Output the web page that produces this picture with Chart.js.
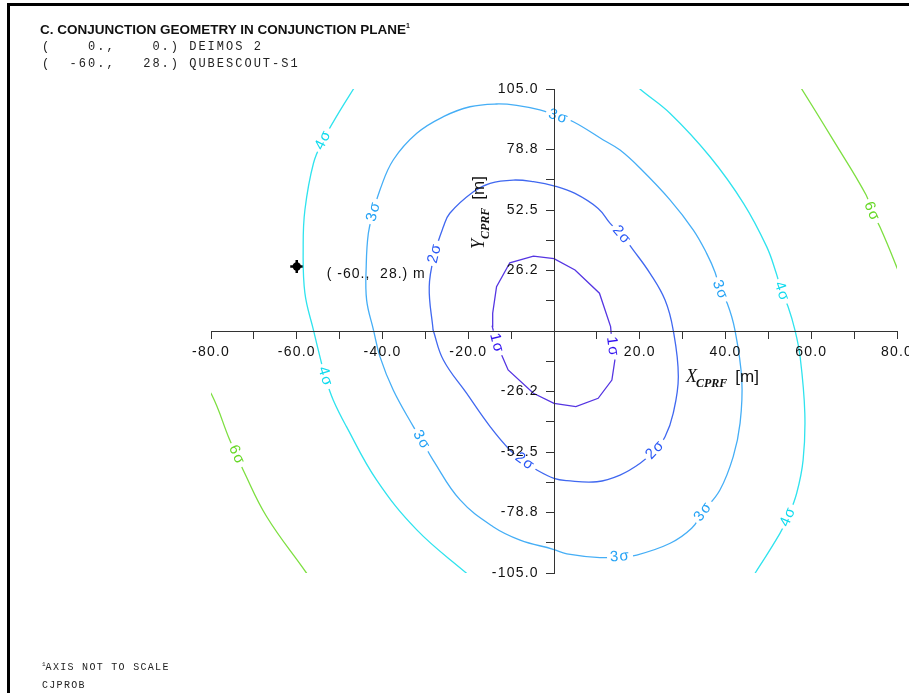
<!DOCTYPE html>
<html>
<head>
<meta charset="utf-8">
<script src="https://cdn.jsdelivr.net/npm/chart.js@4.4.1/dist/chart.umd.min.js"></script>
<style>
  html, body { margin: 0; padding: 0; background: #fff; overflow: hidden; }
  #wrap { position: relative; width: 909px; height: 693px; overflow: hidden; }
  #frame { position: absolute; left: 7px; top: 3px; width: 1000px; height: 800px; border-left: 3px solid #000; border-top: 3px solid #000; }
  #plot { position: absolute; left: 0; top: 0; }
  .t { position: absolute; white-space: pre; }
  .title { left: 40px; top: 22px; font: bold 13.5px "Liberation Sans", Arial, sans-serif; color: #111; }
  .title sup { font-size: 7px; vertical-align: 6px; }
  .mono { left: 42px; font: 12px "Liberation Mono", "Courier New", monospace; letter-spacing: 2px; color: #222; }
  .foot { left: 42px; font: 10px "Liberation Mono", "Courier New", monospace; letter-spacing: 1.3px; color: #222; }
  .foot sup { font-size: 6px; vertical-align: 4px; letter-spacing: 0; }
</style>
</head>
<body>
<div id="wrap">
  <div id="frame"></div>
  <canvas id="plot" width="940" height="693"></canvas>
  <div class="t title">C. CONJUNCTION GEOMETRY IN CONJUNCTION PLANE<sup>1</sup></div>
  <div class="t mono" style="top:40px">(    0.,    0.) DEIMOS 2</div>
  <div class="t mono" style="top:57px">(  -60.,   28.) QUBESCOUT-S1</div>
  <div class="t foot" style="top:661px"><sup>1</sup>AXIS NOT TO SCALE</div>
  <div class="t foot" style="top:680px">CJPROB</div>
</div>
<script>
// tick labels (ascending order, one per tick)
var xTickLabels = ['-80.0','','-60.0','','-40.0','','-20.0','','','','20.0','','40.0','','60.0','','80.0'];
var yTickLabels = ['-105.0','','-78.8','','-52.5','','-26.2','','','','26.2','','52.5','','78.8','','105.0'];

// secondary object position
var secondary = [[-60, 28]];

// contour lines [x, y] in m
var sigma1 = [[-13.4,-5.3],[-14.4,2.0],[-14.3,7.7],[-13.4,19.2],[-10.3,29.6],[-4.8,32.5],[0.0,31.4],[4.9,26.5],
  [10.6,16.4],[13.2,1.9],[13.6,-6.8],[14.2,-12.6],[13.5,-21.3],[10.3,-29.2],[5.1,-32.8],[0.0,-31.4],
  [-4.8,-27.0],[-10.7,-16.9],[-13.4,-5.3]];
var sigma1Labels = [[-13.4,-5.3],[13.6,-6.8]];

var sigma2 = [[-28.2,0.4],[-29.1,19.2],[-27.8,33.7],[-25.8,45.2],[-24.3,51.1],[-18.8,60.4],[-14.9,64.1],
  [-9.5,65.5],[-4.8,64.8],[0.2,62.9],[4.9,59.7],[10.3,53.2],[13.1,46.7],[15.8,41.6],[18.5,35.1],[22.4,25.0],
  [25.9,13.4],[27.8,0.4],[29.0,-19.8],[27.8,-35.7],[25.9,-45.9],[23.6,-51.6],[20.1,-57.4],[15.4,-62.5],
  [10.0,-65.4],[3.0,-64.9],[0.0,-63.9],[-4.0,-60.3],[-6.8,-56.7],[-10.3,-51.6],[-14.9,-41.5],[-20.4,-27.0],
  [-25.8,-12.6],[-28.2,0.4]];
var sigma2Labels = [[-27.8,33.7],[15.8,41.6],[23.6,-51.6],[-6.8,-56.7]];

var sigma3 = [[-42.1,0.4],[-43.7,13.4],[-43.8,28.0],[-43.3,42.4],[-42.1,51.8],[-40.6,61.2],[-37.5,74.2],
  [-32.0,85.8],[-25.8,93.0],[-19.6,97.3],[-13.4,98.5],[-8.7,97.9],[-3.3,95.9],[1.0,93.0],[4.5,90.8],
  [11.5,82.9],[15.4,78.5],[20.1,70.6],[27.1,56.8],[32.5,43.8],[35.6,33.7],[37.6,25.3],[38.7,17.8],
  [40.4,12.0],[42.2,0.4],[43.8,-21.3],[43.4,-40.0],[41.8,-54.5],[38.7,-69.0],[34.8,-78.4],[32.1,-85.6],
  [27.1,-92.1],[19.3,-97.2],[15.4,-97.9],[10.7,-98.3],[3.0,-96.7],[-0.2,-94.7],[-7.9,-90.7],[-14.2,-84.9],
  [-21.9,-73.3],[-28.2,-56.0],[-30.9,-47.3],[-32.8,-41.5],[-37.5,-25.6],[-40.6,-11.1],[-42.1,0.4]];
var sigma3Labels = [[-42.1,51.8],[1.0,93.0],[38.7,17.8],[34.8,-78.4],[15.4,-97.9],[-30.9,-47.3]];

var sigma4Left = [[-45.0,110.2],[-46.8,104.9],[-50.3,94.4],[-53.8,82.9],[-56.1,72.8],[-58.1,52.5],[-58.5,36.6],
  [-58.1,16.4],[-56.1,0.4],[-54.6,-11.1],[-53.4,-19.8],[-51.5,-29.9],[-48.4,-41.5],[-41.4,-64.6],[-32.0,-86.3],
  [-20.4,-105.1],[-17.3,-109.8]];
var sigma4Right = [[17.3,109.8],[20.1,104.9],[27.1,94.4],[36.4,75.6],[44.2,55.4],[49.6,36.6],[51.8,25.3],
  [53.1,17.1],[54.6,10.5],[56.2,0.4],[57.4,-11.1],[58.5,-35.7],[58.1,-56.0],[56.6,-70.4],[54.6,-80.6],
  [52.7,-87.8],[46.9,-105.1],[45.0,-110.2]];
var sigma4LeftLabels = [[-53.8,82.9],[-53.4,-19.8]];
var sigma4RightLabels = [[53.1,17.1],[54.6,-80.6]];

var sigma6Right = [[53.9,116.0],[57.8,104.9],[65.1,82.9],[72.8,59.0],[74.1,51.8],[76.0,45.2],[79.9,27.9],[81.9,17.8]];
var sigma6Left = [[-82.6,-21.3],[-79.8,-27.8],[-75.7,-47.0],[-74.0,-53.8],[-72.5,-60.3],[-67.0,-80.6],[-57.7,-105.1],[-55.3,-112.0]];
var sigma6RightLabels = [[74.1,51.8]];
var sigma6LeftLabels = [[-74.0,-53.8]];

var colors = {
  s1: '#5535e2', s1t: '#3010f0',
  s2: '#4068f0', s2t: '#2a58f5',
  s3: '#45aef6', s3t: '#24a2f5',
  s4: '#2fe3ee', s4t: '#10dbee',
  s6: '#7ddf40', s6t: '#66d826'
};

function xy(arr) {
  return arr.map(function(p) { return {x: p[0], y: p[1]}; });
}

function contour(arr, labels, text, line, textColor, tension) {
  return {
    data: xy(arr),
    showLine: true,
    borderColor: line,
    borderWidth: 1.3,
    pointRadius: 0,
    tension: tension,
    labelAt: labels,
    labelText: text,
    labelColor: textColor
  };
}

var FONT = '"Liberation Sans", Arial, sans-serif';
var SERIF = '"Liberation Serif", "Times New Roman", serif';

var overlay = {
  id: 'overlay',
  beforeDraw: function(chart) {
    chart.ctx.letterSpacing = '1.2px';
  },
  afterDatasetsDraw: function(chart) {
    var ctx = chart.ctx;
    chart.data.datasets.forEach(function(ds, di) {
      if (!ds.labelAt) return;
      var pts = chart.getDatasetMeta(di).data;
      ds.labelAt.forEach(function(lp) {
        var k = 0, best = Infinity;
        ds.data.forEach(function(d, i) {
          var dd = (d.x - lp[0]) * (d.x - lp[0]) + (d.y - lp[1]) * (d.y - lp[1]);
          if (dd < best) { best = dd; k = i; }
        });
        var a = pts[Math.max(k - 1, 0)], b = pts[Math.min(k + 1, pts.length - 1)];
        var ang = Math.atan2(b.y - a.y, b.x - a.x);
        if (ang > Math.PI / 2) ang -= Math.PI;
        if (ang < -Math.PI / 2) ang += Math.PI;
        ctx.save();
        ctx.translate(pts[k].x, pts[k].y);
        ctx.rotate(ang);
        ctx.font = '15px ' + FONT;
        var w = ctx.measureText(ds.labelText).width;
        ctx.fillStyle = '#fff';
        ctx.fillRect(-w / 2 - 3, -7, w + 6, 14);
        ctx.fillStyle = ds.labelColor;
        ctx.textAlign = 'center';
        ctx.textBaseline = 'middle';
        ctx.fillText(ds.labelText, 0, 0);
        ctx.restore();
      });
    });
  },
  afterDraw: function(chart) {
    var ctx = chart.ctx;
    var xs = chart.scales.x, ys = chart.scales.y;
    var ox = xs.getPixelForValue(0), oy = ys.getPixelForValue(0);
    ctx.save();
    ctx.letterSpacing = '0px';
    ctx.fillStyle = '#111';
    ctx.textBaseline = 'alphabetic';
    ctx.textAlign = 'left';

    // Y axis title, rotated
    ctx.save();
    ctx.translate(ox - 70, oy - 82);
    ctx.rotate(-Math.PI / 2);
    ctx.font = 'italic 18px ' + SERIF;
    ctx.fillText('Y', 0, 0);
    var wy = ctx.measureText('Y').width;
    ctx.font = 'bold italic 12px ' + SERIF;
    ctx.fillText('CPRF', wy, 5);
    var wc = ctx.measureText('CPRF').width;
    ctx.font = '17px ' + FONT;
    ctx.fillText('[m]', wy + wc + 8, 0);
    ctx.restore();

    // X axis title
    ctx.save();
    ctx.translate(ox + 132, oy + 51);
    ctx.font = 'italic 18px ' + SERIF;
    ctx.fillText('X', 0, 0);
    var wx = ctx.measureText('X').width;
    ctx.font = 'bold italic 12px ' + SERIF;
    ctx.fillText('CPRF', wx - 1, 5);
    wc = ctx.measureText('CPRF').width;
    ctx.font = '17px ' + FONT;
    ctx.fillText('[m]', wx + wc + 7, 0);
    ctx.restore();

    // secondary object label
    var px = xs.getPixelForValue(secondary[0][0]), py = ys.getPixelForValue(secondary[0][1]);
    ctx.font = '14px ' + FONT;
    ctx.letterSpacing = '1px';
    ctx.fillText('( -60.,  28.) m', px + 30, py + 12);
    ctx.restore();
  }
};

var ctx = document.getElementById('plot');
new Chart(ctx, {
  type: 'scatter',
  data: {
    datasets: [
      contour(sigma1, sigma1Labels, '1\u03c3', colors.s1, colors.s1t, 0),
      contour(sigma2, sigma2Labels, '2\u03c3', colors.s2, colors.s2t, 0.4),
      contour(sigma3, sigma3Labels, '3\u03c3', colors.s3, colors.s3t, 0.4),
      contour(sigma4Left, sigma4LeftLabels, '4\u03c3', colors.s4, colors.s4t, 0.4),
      contour(sigma4Right, sigma4RightLabels, '4\u03c3', colors.s4, colors.s4t, 0.4),
      contour(sigma6Left, sigma6LeftLabels, '6\u03c3', colors.s6, colors.s6t, 0.4),
      contour(sigma6Right, sigma6RightLabels, '6\u03c3', colors.s6, colors.s6t, 0.4),
      {
        data: xy(secondary),
        pointStyle: 'cross',
        pointRadius: 6.5,
        borderColor: '#000',
        borderWidth: 2.5
      },
      {
        data: xy(secondary),
        pointStyle: 'circle',
        pointRadius: 4.2,
        backgroundColor: '#000',
        borderColor: '#000',
        borderWidth: 0
      }
    ]
  },
  options: {
    responsive: false,
    animation: false,
    events: [],
    layout: { padding: { left: 211, right: 43, top: 89, bottom: 120 } },
    plugins: { legend: { display: false }, tooltip: { enabled: false } },
    scales: {
      x: {
        type: 'linear',
        min: -80,
        max: 80,
        position: { y: 0 },
        ticks: {
          stepSize: 10,
          autoSkip: false,
          maxRotation: 0,
          color: '#111',
          padding: 6,
          z: 1,
          font: { family: FONT, size: 14 },
          callback: function(v, i) { return xTickLabels[i]; }
        },
        grid: { drawOnChartArea: false, tickLength: 7, tickColor: '#333' },
        border: { color: '#333', width: 1, z: 1 }
      },
      y: {
        type: 'linear',
        min: -105,
        max: 105,
        position: { x: 0 },
        ticks: {
          stepSize: 13.125,
          autoSkip: false,
          color: '#111',
          padding: 6,
          z: 1,
          font: { family: FONT, size: 14 },
          // trailing spaces keep the labels clear of the axis line
          callback: function(v, i) { return yTickLabels[i] ? yTickLabels[i] + '   ' : ''; }
        },
        grid: { drawOnChartArea: false, tickLength: 8, tickColor: '#333' },
        border: { color: '#333', width: 1, z: 1 }
      }
    }
  },
  plugins: [overlay]
});
</script>
</body>
</html>
